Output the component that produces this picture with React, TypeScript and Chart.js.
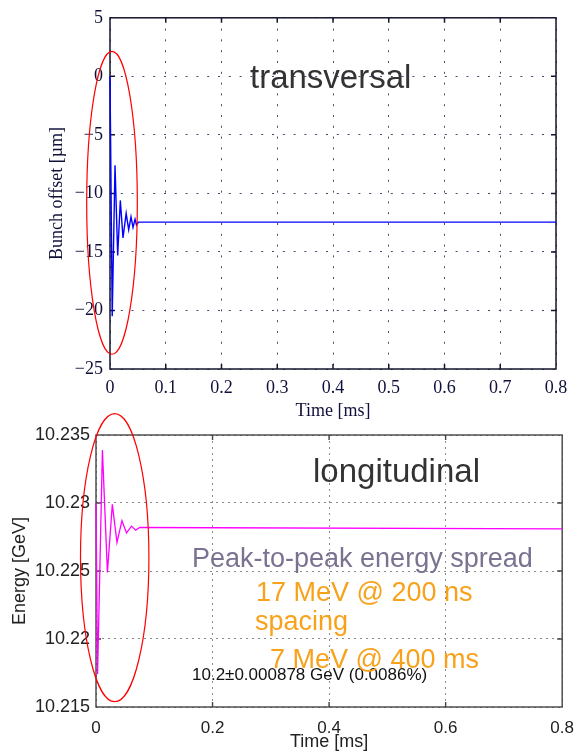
import React, { useEffect, useRef } from 'react';
import { Chart, registerables } from 'chart.js';
Chart.register(...registerables);

// ---- Transversal (top) ----
const transTime = [0, 0.004, 0.009, 0.0138, 0.0185, 0.0233, 0.029, 0.0335, 0.0377, 0.0413, 0.0449, 0.0475, 0.051, 0.8];
const transOffset = [0, -20.5, -7.6, -15.3, -10.6, -13.8, -11.7, -13.1, -12.0, -12.9, -12.2, -12.7, -12.45, -12.45];
const transXTicks = [0, 0.1, 0.2, 0.3, 0.4, 0.5, 0.6, 0.7, 0.8];
const transYTicks = [-25, -20, -15, -10, -5, 0, 5];

// ---- Longitudinal (bottom) ----
const longTime = [0, 0.0027, 0.011, 0.0196, 0.028, 0.036, 0.0445, 0.0524, 0.0609, 0.068, 0.075, 0.8];
const longEnergy = [10.23, 10.2174, 10.2339, 10.2249, 10.2299, 10.2271, 10.2287, 10.2278, 10.2283, 10.228, 10.2282, 10.2281];
const longXTicks = [0, 0.2, 0.4, 0.6, 0.8];
const longYTicks = [10.215, 10.22, 10.225, 10.23, 10.235];

const NAVY = '#10103a';
const SERIF = "'Liberation Serif', 'Times New Roman', serif";
const SANS = "'Liberation Sans', Arial, sans-serif";

function framePlugin(color: string, width: number, tickLen: number) {
  return {
    id: 'frame',
    beforeDatasetsDraw(chart: any) {
      const { ctx, chartArea } = chart;
      const { left, right, top, bottom } = chartArea;
      const x = chart.scales.x;
      const y = chart.scales.y;
      ctx.save();
      ctx.strokeStyle = color;
      ctx.lineWidth = width;
      ctx.strokeRect(left, top, right - left, bottom - top);
      ctx.beginPath();
      x.ticks.forEach((t: any) => {
        const px = x.getPixelForValue(t.value);
        if (px <= left + 1 || px >= right - 1) return;
        ctx.moveTo(px, bottom); ctx.lineTo(px, bottom - tickLen);
        ctx.moveTo(px, top); ctx.lineTo(px, top + tickLen);
      });
      y.ticks.forEach((t: any) => {
        const py = y.getPixelForValue(t.value);
        if (py <= top + 1 || py >= bottom - 1) return;
        ctx.moveTo(left, py); ctx.lineTo(left + tickLen, py);
        ctx.moveTo(right, py); ctx.lineTo(right - tickLen, py);
      });
      ctx.stroke();
      ctx.restore();
    },
  };
}

type Ell = { cx: number; cy: number; rx: number; ry: number };
type Txt = { text: string; x: number; y: number; font: string; color: string };

function overlayPlugin(ellipse: Ell, texts: Txt[]) {
  return {
    id: 'overlay',
    afterDraw(chart: any) {
      const { ctx } = chart;
      const x = chart.scales.x;
      const y = chart.scales.y;
      ctx.save();
      texts.forEach((t) => {
        ctx.font = t.font;
        ctx.fillStyle = t.color;
        ctx.textAlign = 'left';
        ctx.textBaseline = 'alphabetic';
        ctx.fillText(t.text, t.x, t.y);
      });
      const cx = x.getPixelForValue(ellipse.cx);
      const cy = y.getPixelForValue(ellipse.cy);
      const rx = Math.abs(x.getPixelForValue(ellipse.cx + ellipse.rx) - cx);
      const ry = Math.abs(y.getPixelForValue(ellipse.cy + ellipse.ry) - cy);
      ctx.beginPath();
      ctx.ellipse(cx, cy, rx, ry, 0, 0, Math.PI * 2);
      ctx.strokeStyle = '#ff0000';
      ctx.lineWidth = 1.2;
      ctx.stroke();
      ctx.restore();
    },
  };
}

function makeTop(): any {
  return {
    type: 'line',
    data: {
      datasets: [{
        data: transTime.map((t, i) => ({ x: t, y: transOffset[i] })),
        borderColor: '#0000ff',
        borderWidth: 1.4,
        pointRadius: 0,
        tension: 0,
        clip: false,
      }],
    },
    options: {
      responsive: false,
      animation: false,
      layout: { padding: { top: 17, right: 29, left: 0, bottom: 0 } },
      plugins: { legend: { display: false }, tooltip: { enabled: false } },
      scales: {
        x: {
          type: 'linear', min: 0, max: 0.8,
          afterBuildTicks: (s: any) => { s.ticks = transXTicks.map((v) => ({ value: v })); },
          afterFit: (s: any) => { s.height = 53; },
          grid: { color: '#4a4a70', lineWidth: 1, drawTicks: false },
          border: { display: false, dash: [2, 8.8] },
          ticks: { padding: 8, color: NAVY, font: { family: SERIF, size: 18 }, maxRotation: 0, autoSkip: false, callback: (v: any) => String(v) },
          title: { display: true, text: 'Time [ms]', color: NAVY, font: { family: SERIF, size: 18 }, padding: { top: 0, bottom: 0 } },
        },
        y: {
          type: 'linear', min: -25, max: 5,
          afterBuildTicks: (s: any) => { s.ticks = transYTicks.map((v) => ({ value: v })); },
          afterFit: (s: any) => { s.width = 110; },
          grid: { color: '#4a4a70', lineWidth: 1, drawTicks: false },
          border: { display: false, dash: [2, 8.8] },
          ticks: { padding: 7, color: NAVY, font: { family: SERIF, size: 18 }, autoSkip: false, callback: (v: any) => String(v).replace('-', '\u2212') },
          title: { display: true, text: 'Bunch offset [\u00b5m]', color: NAVY, font: { family: SERIF, size: 18 }, padding: { top: 46, bottom: 0 } },
        },
      },
    },
    plugins: [
      framePlugin('#15152e', 1.5, 5),
      overlayPlugin({ cx: 0.0036, cy: -10.8, rx: 0.0454, ry: 12.94 }, [
        { text: 'transversal', x: 250, y: 88, font: `33px ${SANS}`, color: '#333333' },
      ]),
    ],
  };
}

function makeBottom(): any {
  return {
    type: 'line',
    data: {
      datasets: [{
        data: longTime.map((t, i) => ({ x: t, y: longEnergy[i] })),
        borderColor: '#ff00ff',
        borderWidth: 1.3,
        pointRadius: 0,
        tension: 0,
        clip: false,
      }],
    },
    options: {
      responsive: false,
      animation: false,
      layout: { padding: { top: 35, right: 16, left: 0, bottom: 0 } },
      plugins: { legend: { display: false }, tooltip: { enabled: false } },
      scales: {
        x: {
          type: 'linear', min: 0, max: 0.8,
          afterBuildTicks: (s: any) => { s.ticks = longXTicks.map((v) => ({ value: v })); },
          afterFit: (s: any) => { s.height = 46; },
          grid: { color: '#8a8a8a', lineWidth: 1, drawTicks: false },
          border: { display: false, dash: [2, 4] },
          ticks: { padding: 11, color: '#222222', font: { family: SANS, size: 17 }, maxRotation: 0, autoSkip: false, callback: (v: any) => String(v) },
          title: { display: true, text: 'Time [ms]', color: '#222222', font: { family: SANS, size: 18 }, padding: { top: 0, bottom: 0 } },
        },
        y: {
          type: 'linear', min: 10.215, max: 10.235,
          afterBuildTicks: (s: any) => { s.ticks = longYTicks.map((v) => ({ value: v })); },
          afterFit: (s: any) => { s.width = 96; },
          grid: { color: '#8a8a8a', lineWidth: 1, drawTicks: false },
          border: { display: false, dash: [2, 4] },
          ticks: { padding: 6, color: '#222222', font: { family: SANS, size: 18 }, autoSkip: false, callback: (v: any) => String(v) },
          title: { display: true, text: 'Energy [GeV]', color: '#222222', font: { family: SANS, size: 18 }, padding: { top: 9, bottom: 0 } },
        },
      },
    },
    plugins: [
      framePlugin('#444444', 1.4, 5),
      overlayPlugin({ cx: 0.0321, cy: 10.22598, rx: 0.0587, ry: 0.01059 }, [
        { text: 'longitudinal', x: 313, y: 82, font: `33px ${SANS}`, color: '#333333' },
        { text: 'Peak-to-peak energy spread', x: 192, y: 167, font: `27px ${SANS}`, color: '#7a7290' },
        { text: '10.2\u00b10.000878 GeV (0.0086%)', x: 192, y: 280, font: `17px ${SANS}`, color: '#111111' },
        { text: '17 MeV @ 200 ns', x: 256, y: 201, font: `27px ${SANS}`, color: '#f8a21c' },
        { text: 'spacing', x: 255, y: 230, font: `27px ${SANS}`, color: '#f8a21c' },
        { text: '7 MeV @ 400 ms', x: 270, y: 268, font: `27px ${SANS}`, color: '#f8a21c' },
      ]),
    ],
  };
}

function ChartCanvas({ make, width, height, top }: { make: () => any; width: number; height: number; top: number }) {
  const ref = useRef<HTMLCanvasElement | null>(null);
  useEffect(() => {
    if (!ref.current) return;
    const chart = new Chart(ref.current, make());
    return () => chart.destroy();
  }, [make]);
  return (
    <canvas
      ref={ref}
      width={width}
      height={height}
      style={{ position: 'absolute', left: 0, top, width, height, display: 'block' }}
    />
  );
}

export default function App() {
  return (
    <div style={{ position: 'absolute', left: 0, top: 0, width: 585, height: 753, background: '#ffffff', overflow: 'hidden' }}>
      <ChartCanvas make={makeTop} width={585} height={422} top={0} />
      <ChartCanvas make={makeBottom} width={585} height={353} top={400} />
    </div>
  );
}
